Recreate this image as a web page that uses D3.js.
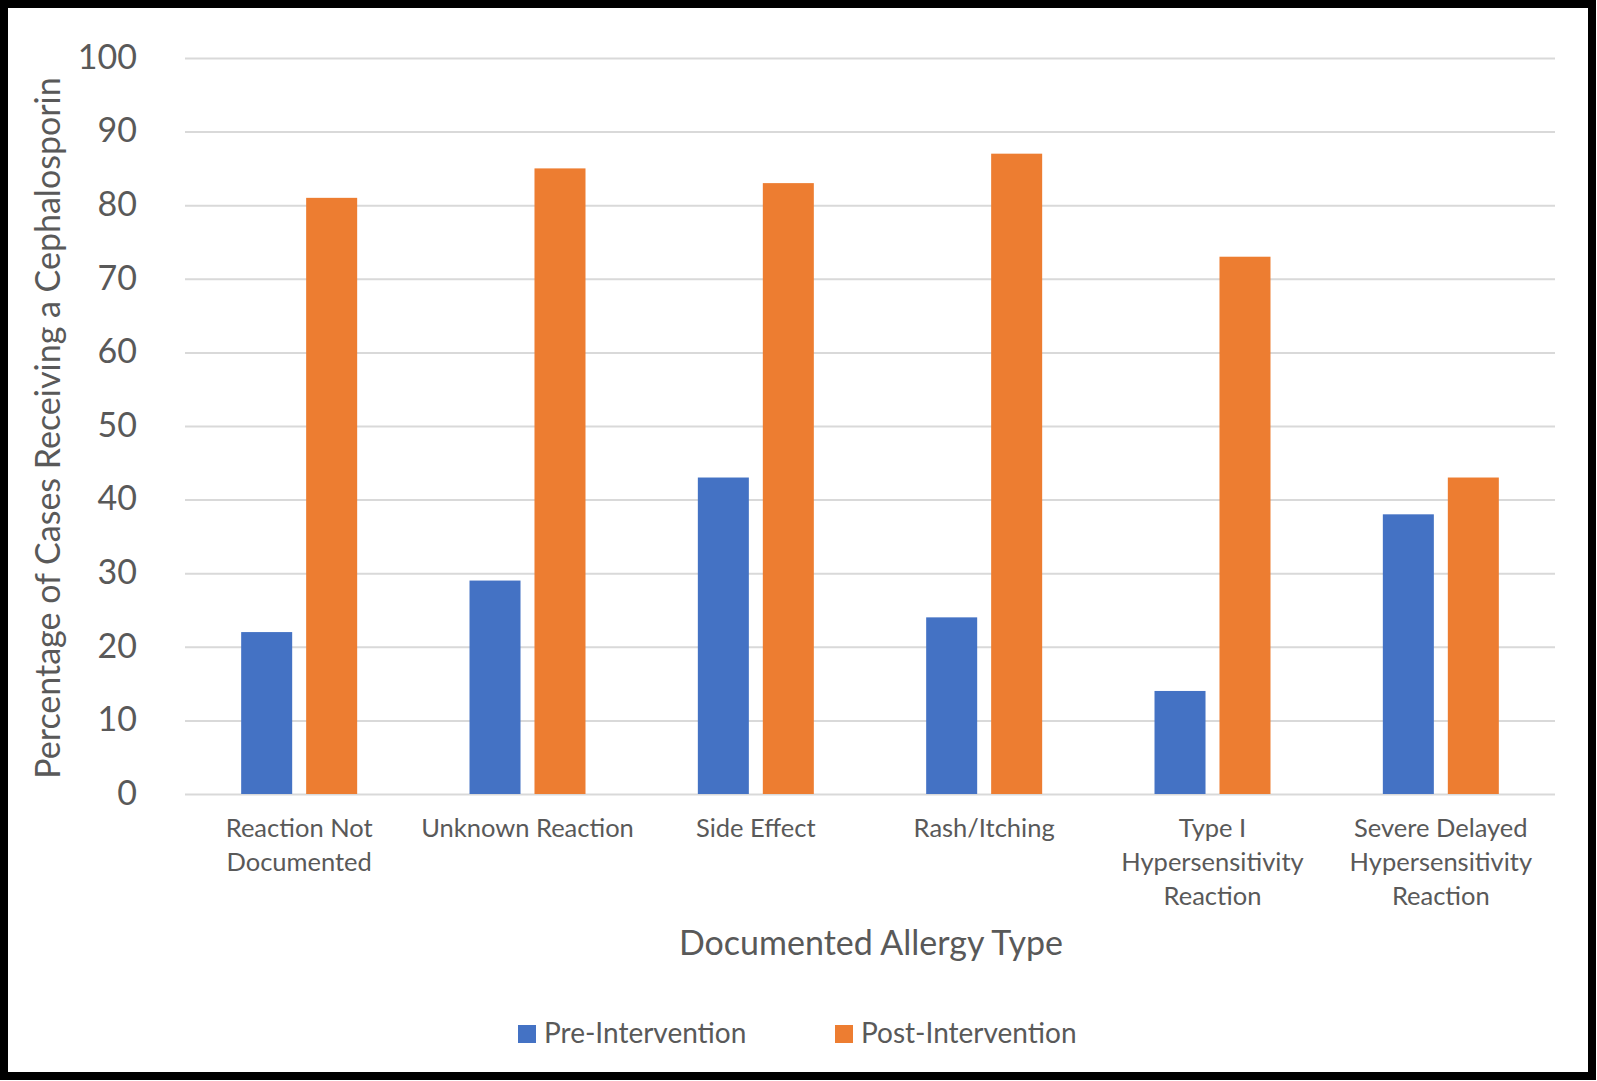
<!DOCTYPE html>
<html>
<head>
<meta charset="utf-8">
<script src="https://cdn.jsdelivr.net/npm/d3@7"></script>
<style>
  html, body { margin: 0; padding: 0; background: #fff; }
  svg { display: block; }
  text { font-family: Lato, "Open Sans", sans-serif; fill: #595959; }
</style>
</head>
<body>
<svg id="chart" width="1597" height="1081"></svg>
<script>
// Allergy categories (x axis); "\n" marks line breaks in the tick labels
const categories = [
  "Reaction Not\nDocumented",
  "Unknown Reaction",
  "Side Effect",
  "Rash/Itching",
  "Type I\nHypersensitivity\nReaction",
  "Severe Delayed\nHypersensitivity\nReaction"
];
const seriesNames = ["Pre-Intervention", "Post-Intervention"];
const preIntervention  = [22, 29, 43, 24, 14, 38];
const postIntervention = [81, 85, 83, 87, 73, 43];
const yTicks = [0, 10, 20, 30, 40, 50, 60, 70, 80, 90, 100];
const colors = ["#4472C4", "#ED7D31"];

const svg = d3.select("#chart");
const W = 1597, H = 1081;

// frame
svg.append("rect").attr("x", 4).attr("y", 4).attr("width", W - 9).attr("height", H - 9)
  .attr("fill", "#fff").attr("stroke", "#000").attr("stroke-width", 8);

const plot = { left: 185, right: 1555, top: 58, bottom: 794 };

const y = d3.scaleLinear().domain([0, 100]).range([plot.bottom, plot.top]);
const x0 = d3.scaleBand().domain(categories).range([plot.left, plot.right])
  .paddingInner(0.492).paddingOuter(0.246);
const x1 = d3.scaleBand().domain(seriesNames).range([0, x0.bandwidth()]).paddingInner(0.215);

// gridlines + y labels
const yAxis = d3.axisLeft(y).tickValues(yTicks).tickSize(-(plot.right - plot.left)).tickPadding(48);
const gy = svg.append("g").attr("transform", `translate(${plot.left},0)`).call(yAxis);
gy.select(".domain").remove();
gy.selectAll(".tick line").attr("stroke", "#d9d9d9").attr("stroke-width", 2);
gy.selectAll(".tick text").attr("font-size", 34).attr("fill", "#595959")
  .attr("font-family", "Lato, 'Open Sans', sans-serif").attr("dy", "0.3em");

// bars
const rows = categories.map((c, i) => ({ cat: c, vals: [preIntervention[i], postIntervention[i]] }));
const groups = svg.append("g").selectAll("g").data(rows).join("g")
  .attr("transform", d => `translate(${x0(d.cat)},0)`);
groups.selectAll("rect").data(d => d.vals.map((v, j) => ({ name: seriesNames[j], v, j })))
  .join("rect")
  .attr("x", d => x1(d.name))
  .attr("width", x1.bandwidth())
  .attr("y", d => y(d.v))
  .attr("height", d => y(0) - y(d.v))
  .attr("fill", d => colors[d.j]);

// x tick labels
const xl = svg.append("g");
categories.forEach(c => {
  const cx = x0(c) + x0.bandwidth() / 2;
  const t = xl.append("text").attr("text-anchor", "middle").attr("font-size", 25.5)
    .attr("x", cx).attr("y", 837);
  c.split("\n").forEach((line, k) => {
    t.append("tspan").attr("x", cx).attr("dy", k === 0 ? 0 : 34).text(line);
  });
});

// axis titles
svg.append("text").attr("text-anchor", "middle").attr("font-size", 34)
  .attr("x", 871).attr("y", 955)
  .text("Documented Allergy Type");
svg.append("text").attr("text-anchor", "middle").attr("font-size", 34)
  .attr("transform", `translate(60,428) rotate(-90)`)
  .text("Percentage of Cases Receiving a Cephalosporin");

// legend
const legend = svg.append("g");
const legendX = [518, 835];
seriesNames.forEach((n, i) => {
  legend.append("rect").attr("x", legendX[i]).attr("y", 1025).attr("width", 18).attr("height", 18)
    .attr("fill", colors[i]);
  legend.append("text").attr("x", legendX[i] + 26).attr("y", 1043).attr("font-size", 28).text(n);
});
</script>
</body>
</html>
